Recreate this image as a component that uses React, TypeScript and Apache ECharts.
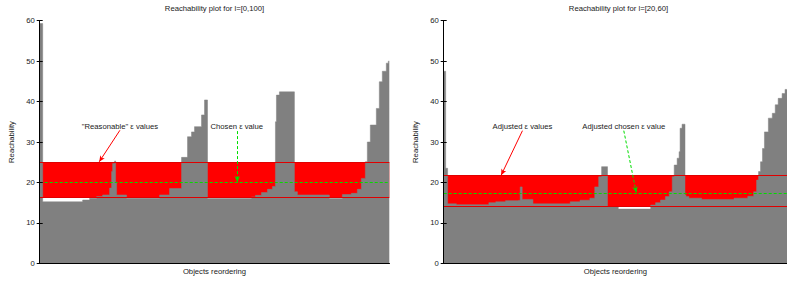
import React, { useEffect, useRef } from "react";
import * as echarts from "echarts";

// ---- data (x = object position in reordering, y = reachability) ----
const X_MAX = 350;
const Y_MIN = 0;
const Y_MAX = 60;
const Y_INTERVAL = 10;

const leftTitle = "Reachability plot for l=[0,100]";
const rightTitle = "Reachability plot for l=[20,60]";
const xName = "Objects reordering";
const yName = "Reachability";

const leftX = [0, 3, 43, 50, 57, 63, 70, 72, 73, 75, 76, 77, 87, 120, 130, 142, 148, 152, 155, 162, 165, 168, 212, 216, 222, 228, 233, 236, 237, 240, 255, 258, 290, 303, 312, 318, 322, 326, 328, 331, 337, 340, 343, 347, 349, 350];
const leftY = [59.3, 15.2, 15.65, 16.1, 16.5, 16.9, 18.6, 22.7, 24.7, 25.3, 20, 16.9, 16.1, 16.9, 18.5, 26.2, 31.3, 32.5, 33.8, 36.7, 40.4, 16.0, 16.4, 16.8, 17.5, 18.3, 19.0, 35, 41.6, 42.4, 17.7, 16.9, 16.0, 17.0, 17.3, 18.3, 21, 25.1, 30, 34.2, 38.3, 44.9, 47.5, 49.5, 50, 50];

const rightX = [0, 2, 4, 13, 46, 53, 63, 75, 78, 80, 91, 129, 139, 149, 154, 158, 161, 167, 178, 211, 216, 221, 226, 230, 233, 235, 238, 240, 241, 243, 246, 247, 250, 263, 296, 310, 316, 319, 321, 323, 325, 327, 331, 335, 338, 341, 345, 348, 350];
const rightY = [47.5, 23.5, 14.7, 14.5, 15.0, 15.2, 15.5, 15.6, 18.9, 15.8, 14.7, 15.2, 15.6, 16.1, 18.9, 21.4, 23.9, 14.0, 13.4, 14.4, 15.0, 15.65, 16.5, 17.7, 21.4, 24.3, 26, 27.6, 33.4, 34.4, 16.9, 16.5, 16.1, 15.8, 16.1, 16.6, 17.7, 20.6, 22.7, 25.1, 28.4, 32.5, 35.9, 37.1, 39.2, 40.8, 42, 43, 43];

// epsilon range [lower, upper] and chosen epsilon
const leftEps = [16.3, 25.0];
const leftChosen = 20.0;
const rightEps = [14.1, 21.7];
const rightChosen = 17.3;

// annotations: [label, textX, textY, arrowFromX, arrowFromY, arrowToX, arrowToY]
const leftRangeNote = ["\"Reasonable\" \u03b5 values", 80.3, 33.8, 80.3, 32.9, 59.6, 25.1];
const leftChosenNote = ["Chosen \u03b5 value", 197.3, 33.8, 197.8, 32.7, 197.8, 20.1];
const rightRangeNote = ["Adjusted \u03b5 values", 80.3, 33.8, 80.3, 32.8, 58.6, 21.8];
const rightChosenNote = ["Adjusted chosen \u03b5 value", 183.6, 33.8, 183.6, 32.8, 196.3, 17.5];

// ---- styling ----
const FONT = "Liberation Sans, Arial, Helvetica, sans-serif";
const FS = 7.7;
const TXT = "#1a1a1a";
const GRAY = "#808080";
const RED = "#ff0000";
const RED_LINE = "#e00000";
const GREEN = "#00dd00";

const GRID_W = 349.6;
const GRID_H = 242.6;
const GRID_TOP = 20.7;
const GRID_LEFTS = [39.7, 443.7];

function zip(xs: number[], ys: number[]) {
  return xs.map((x, i) => [x, ys[i]]);
}

function hLine(i: number, y: number, color: string, type: any, z: number) {
  return {
    type: "line",
    xAxisIndex: i * 2,
    yAxisIndex: i * 2,
    data: [],
    z,
    color,
    silent: true,
    markLine: {
      silent: true,
      symbol: ["none", "none"],
      label: { show: false },
      lineStyle: { color, width: 1, type, opacity: 1 },
      emphasis: { disabled: true },
      data: [{ yAxis: y }],
    },
  };
}

function arrow(i: number, n: any[], color: string, type: any, z: number) {
  return {
    type: "line",
    xAxisIndex: i * 2,
    yAxisIndex: i * 2,
    data: [],
    z,
    color,
    silent: true,
    markLine: {
      silent: true,
      symbol: ["none", "arrow"],
      symbolSize: [4, 6],
      label: { show: false },
      lineStyle: { color, width: 1, type, opacity: 1 },
      itemStyle: { color },
      emphasis: { disabled: true },
      data: [[{ coord: [n[3], n[4]] }, { coord: [n[5], n[6]] }]],
    },
    markPoint: {
      silent: true,
      symbol: "circle",
      symbolSize: 0,
      data: [
        {
          coord: [n[1], n[2]],
          label: { show: true, position: "inside", formatter: n[0], fontSize: FS, fontFamily: FONT, color: TXT },
        },
      ],
    },
  };
}

function buildGrid(i: number, xs: number[], ys: number[], eps: number[], chosen: number, notes: any[][]) {
  return [
    {
      type: "line",
      xAxisIndex: i * 2,
      yAxisIndex: i * 2,
      data: [],
      z: 1,
      silent: true,
      markArea: {
        silent: true,
        itemStyle: { color: RED, opacity: 1, borderWidth: 0 },
        data: [[{ yAxis: eps[0] }, { yAxis: eps[1] }]],
      },
    },
    {
      type: "line",
      xAxisIndex: i * 2,
      yAxisIndex: i * 2,
      data: zip(xs, ys),
      step: "end",
      symbol: "none",
      z: 2,
      silent: true,
      lineStyle: { color: GRAY, width: 0.5 },
      areaStyle: { color: GRAY, opacity: 1 },
    },
    hLine(i, eps[0], RED_LINE, "solid", 3),
    hLine(i, eps[1], RED_LINE, "solid", 3),
    hLine(i, chosen, GREEN, [3, 2], 4),
    arrow(i, notes[0], RED, "solid", 5),
    arrow(i, notes[1], GREEN, [3, 2], 5),
  ];
}

function axesFor(i: number) {
  const axisLine = { show: true, lineStyle: { color: "#000", width: 1 } };
  const xAxes = [
    {
      type: "value", gridIndex: i, min: 0, max: X_MAX, position: "bottom", z: 10, axisLine,
      axisTick: { show: false }, axisLabel: { show: false }, splitLine: { show: false },
      name: xName, nameLocation: "middle", nameGap: 4,
      nameTextStyle: { fontSize: FS, fontFamily: FONT, color: TXT, verticalAlign: "top" },
    },
    {
      type: "value", gridIndex: i, min: 0, max: X_MAX, position: "top", z: 10, axisLine,
      axisTick: { show: false }, axisLabel: { show: false }, splitLine: { show: false },
    },
  ];
  const yAxes = [
    {
      type: "value", gridIndex: i, min: Y_MIN, max: Y_MAX, interval: Y_INTERVAL, position: "left", z: 10, axisLine,
      axisTick: { show: true, inside: true, length: 3, lineStyle: { color: "#000" } },
      axisLabel: { fontSize: FS, fontFamily: FONT, color: TXT, margin: 5 },
      splitLine: { show: false },
      name: yName, nameLocation: "middle", nameGap: 24,
      nameTextStyle: { fontSize: FS, fontFamily: FONT, color: TXT },
    },
    {
      type: "value", gridIndex: i, min: Y_MIN, max: Y_MAX, interval: Y_INTERVAL, position: "right", z: 10, axisLine,
      axisTick: { show: true, inside: true, length: 3, lineStyle: { color: "#000" } },
      axisLabel: { show: false }, splitLine: { show: false },
    },
  ];
  return { xAxes, yAxes };
}

export default function App() {
  const ref = useRef<HTMLDivElement>(null);
  useEffect(() => {
    if (!ref.current) return;
    const chart = echarts.init(ref.current, null, { renderer: "svg" });
    const a0 = axesFor(0);
    const a1 = axesFor(1);
    const titleStyle = { fontSize: FS, fontWeight: "normal", fontFamily: FONT, color: TXT };
    const option: any = {
      animation: false,
      backgroundColor: "#fff",
      title: [
        { text: leftTitle, left: GRID_LEFTS[0] + GRID_W / 2, top: 4.5, textAlign: "center", padding: 0, textStyle: titleStyle },
        { text: rightTitle, left: GRID_LEFTS[1] + GRID_W / 2, top: 4.5, textAlign: "center", padding: 0, textStyle: titleStyle },
      ],
      grid: GRID_LEFTS.map((l) => ({ left: l, top: GRID_TOP, width: GRID_W, height: GRID_H, containLabel: false })),
      xAxis: [...a0.xAxes, ...a1.xAxes],
      yAxis: [...a0.yAxes, ...a1.yAxes],
      series: [
        ...buildGrid(0, leftX, leftY, leftEps, leftChosen, [leftRangeNote, leftChosenNote]),
        ...buildGrid(1, rightX, rightY, rightEps, rightChosen, [rightRangeNote, rightChosenNote]),
      ],
    };
    chart.setOption(option);
    return () => chart.dispose();
  }, []);
  return <div ref={ref} style={{ position: "fixed", left: 0, top: 0, width: 787, height: 282, background: "#fff" }} />;
}
